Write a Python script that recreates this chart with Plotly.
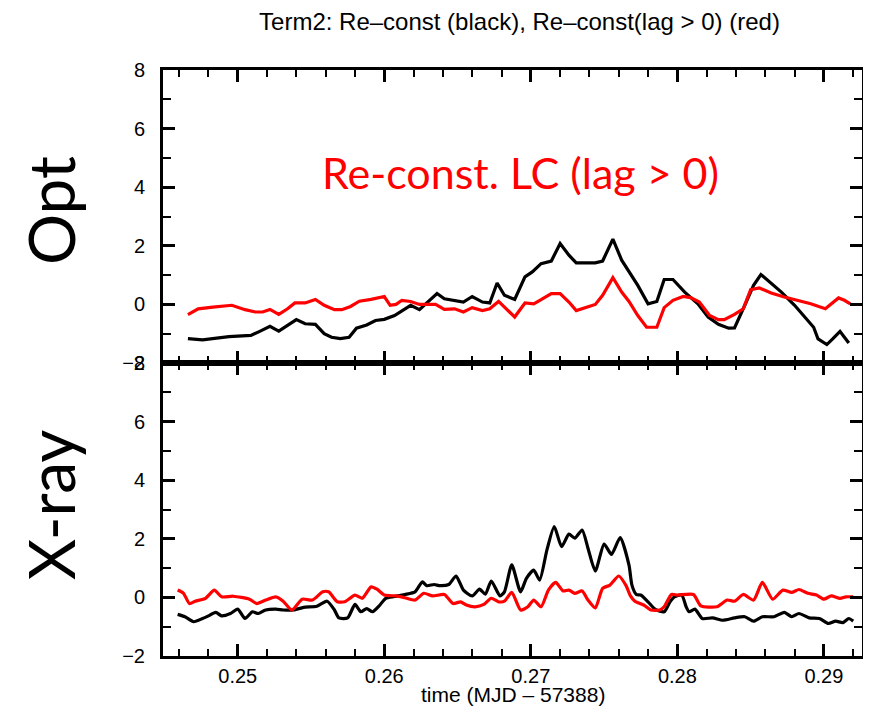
import plotly.graph_objects as go
from plotly.subplots import make_subplots

# Opt panel (top)
opt_time_black = [0.2466, 0.2476, 0.2494, 0.2509, 0.2515, 0.2522, 0.2528, 0.2534, 0.2540, 0.2546,
                  0.2553, 0.2559, 0.2564, 0.2570, 0.2576, 0.2581, 0.2588, 0.2594, 0.2600, 0.2607,
                  0.2612, 0.2618, 0.2624, 0.2630, 0.2636, 0.2641, 0.2648, 0.2654, 0.2660, 0.2667,
                  0.2672, 0.2677, 0.2682, 0.2689, 0.2696, 0.2701, 0.2707, 0.2714, 0.2720, 0.2726,
                  0.2731, 0.2744, 0.2749, 0.2756, 0.2762, 0.2767, 0.2773, 0.2780, 0.2786, 0.2791,
                  0.2797, 0.2805, 0.2814, 0.2821, 0.2828, 0.2835, 0.2839, 0.2846, 0.2852, 0.2857,
                  0.2864, 0.2871, 0.2880, 0.2887, 0.2893, 0.2896, 0.2902, 0.2906, 0.2911, 0.2914,
                  0.2917]
opt_black = [-1.17, -1.21, -1.10, -1.06, -0.92, -0.75, -0.91, -0.72, -0.52, -0.66,
             -0.68, -1.00, -1.12, -1.17, -1.12, -0.81, -0.70, -0.55, -0.51, -0.38,
             -0.21, -0.03, -0.18, 0.08, 0.37, 0.19, 0.14, 0.08, 0.27, 0.08,
             0.05, 0.73, 0.31, 0.17, 0.94, 1.11, 1.39, 1.48, 2.08, 1.68,
             1.42, 1.42, 1.48, 2.23, 1.51, 1.10, 0.65, 0.02, 0.10, 0.85,
             0.85, 0.42, 0.02, -0.43, -0.68, -0.81, -0.80, -0.03, 0.65, 1.02,
             0.71, 0.42, -0.03, -0.43, -0.78, -1.18, -1.37, -1.18, -0.92, -1.12,
             -1.32]

opt_time_red = [0.2466, 0.2473, 0.2483, 0.2496, 0.2505, 0.2512, 0.2517, 0.2522, 0.2528, 0.2534,
                0.2539, 0.2546, 0.2553, 0.2559, 0.2566, 0.2571, 0.2577, 0.2583, 0.2591, 0.2600,
                0.2604, 0.2608, 0.2612, 0.2618, 0.2624, 0.2635, 0.2641, 0.2648, 0.2654, 0.2660,
                0.2667, 0.2672, 0.2678, 0.2684, 0.2689, 0.2696, 0.2702, 0.2707, 0.2714, 0.2720,
                0.2726, 0.2731, 0.2737, 0.2744, 0.2749, 0.2756, 0.2762, 0.2767, 0.2773, 0.2779,
                0.2786, 0.2791, 0.2797, 0.2804, 0.2809, 0.2815, 0.2822, 0.2828, 0.2832, 0.2839,
                0.2845, 0.2850, 0.2856, 0.2864, 0.2873, 0.2882, 0.2891, 0.2901, 0.2910, 0.2914,
                0.2918]
opt_red = [-0.35, -0.15, -0.09, -0.03, -0.18, -0.26, -0.26, -0.17, -0.34, -0.15,
           0.05, 0.05, 0.17, -0.03, -0.18, -0.18, -0.07, 0.11, 0.17, 0.27,
           -0.03, 0.00, 0.14, 0.10, 0.00, 0.00, -0.17, -0.15, -0.26, -0.11,
           -0.21, -0.15, 0.10, -0.18, -0.43, 0.05, 0.02, 0.16, 0.37, 0.37,
           0.08, -0.21, -0.11, 0.00, 0.31, 0.91, 0.42, 0.10, -0.38, -0.78,
           -0.78, -0.11, 0.14, 0.27, 0.23, 0.08, -0.38, -0.52, -0.52, -0.34,
           -0.15, 0.50, 0.56, 0.39, 0.25, 0.14, 0.02, -0.15, 0.22, 0.14,
           0.02]

# X-ray panel (bottom)
xray_time_black = [0.2459, 0.2464, 0.2470, 0.2476, 0.2480, 0.2485, 0.2489, 0.2495, 0.2500, 0.2505,
                   0.2510, 0.2514, 0.2519, 0.2526, 0.2531, 0.2538, 0.2545, 0.2554, 0.2561, 0.2566,
                   0.2569, 0.2575, 0.2580, 0.2584, 0.2588, 0.2592, 0.2597, 0.2601, 0.2607, 0.2614,
                   0.2621, 0.2626, 0.2629, 0.2634, 0.2638, 0.2644, 0.2649, 0.2654, 0.2660, 0.2665,
                   0.2669, 0.2673, 0.2679, 0.2682, 0.2687, 0.2693, 0.2697, 0.2702, 0.2706, 0.2711,
                   0.2716, 0.2721, 0.2726, 0.2730, 0.2735, 0.2739, 0.2744, 0.2750, 0.2755, 0.2761,
                   0.2767, 0.2769, 0.2772, 0.2775, 0.2780, 0.2785, 0.2791, 0.2795, 0.2798, 0.2803,
                   0.2806, 0.2808, 0.2812, 0.2817, 0.2824, 0.2831, 0.2839, 0.2846, 0.2852, 0.2858,
                   0.2866, 0.2873, 0.2878, 0.2883, 0.2890, 0.2897, 0.2903, 0.2908, 0.2913, 0.2917,
                   0.2920]
xray_black = [-0.58, -0.66, -0.83, -0.72, -0.63, -0.51, -0.63, -0.55, -0.40, -0.72,
              -0.49, -0.55, -0.43, -0.40, -0.43, -0.43, -0.34, -0.30, -0.13, -0.43,
              -0.70, -0.70, -0.24, -0.49, -0.38, -0.49, -0.26, -0.03, 0.03, 0.10,
              0.19, 0.53, 0.40, 0.44, 0.40, 0.44, 0.73, 0.25, 0.05, 0.28,
              0.11, 0.56, 0.05, 0.19, 1.11, 0.19, 0.65, 0.93, 0.59, 1.62,
              2.42, 1.73, 2.16, 2.02, 2.30, 1.68, 0.90, 1.82, 1.47, 2.04,
              1.10, 0.42, 0.10, 0.08, -0.15, -0.41, -0.49, -0.15, 0.02, 0.08,
              -0.32, -0.49, -0.40, -0.72, -0.70, -0.78, -0.70, -0.66, -0.81, -0.66,
              -0.66, -0.51, -0.66, -0.55, -0.70, -0.72, -0.89, -0.81, -0.86, -0.72,
              -0.81]

xray_time_red = [0.2459, 0.2463, 0.2467, 0.2471, 0.2478, 0.2484, 0.2489, 0.2497, 0.2508, 0.2513,
                 0.2519, 0.2526, 0.2531, 0.2537, 0.2544, 0.2551, 0.2558, 0.2562, 0.2568, 0.2573,
                 0.2580, 0.2585, 0.2591, 0.2595, 0.2600, 0.2608, 0.2614, 0.2621, 0.2627, 0.2633,
                 0.2641, 0.2647, 0.2652, 0.2656, 0.2662, 0.2668, 0.2673, 0.2678, 0.2682, 0.2687,
                 0.2693, 0.2698, 0.2702, 0.2707, 0.2712, 0.2717, 0.2722, 0.2726, 0.2730, 0.2735,
                 0.2739, 0.2744, 0.2749, 0.2754, 0.2760, 0.2765, 0.2768, 0.2771, 0.2777, 0.2782,
                 0.2788, 0.2791, 0.2796, 0.2800, 0.2811, 0.2816, 0.2827, 0.2834, 0.2839, 0.2845,
                 0.2852, 0.2858, 0.2865, 0.2872, 0.2878, 0.2883, 0.2889, 0.2895, 0.2900, 0.2905,
                 0.2911, 0.2915, 0.2920]
xray_red = [0.25, 0.14, -0.21, -0.13, -0.03, 0.25, 0.02, 0.04, -0.06, -0.21,
            -0.09, 0.02, -0.13, -0.43, -0.06, -0.09, 0.19, 0.19, -0.15, -0.15,
            0.08, -0.03, 0.36, 0.28, 0.08, 0.05, -0.01, -0.09, 0.14, 0.05,
            0.10, -0.21, -0.15, -0.26, -0.32, -0.24, -0.03, -0.15, -0.13, 0.17,
            -0.43, -0.32, -0.09, -0.32, 0.25, 0.51, 0.22, 0.25, 0.14, 0.22,
            -0.09, -0.36, 0.31, 0.42, 0.73, 0.40, 0.05, -0.13, -0.26, -0.43,
            -0.43, -0.32, 0.10, 0.08, 0.10, -0.29, -0.32, -0.09, -0.13, 0.10,
            -0.09, 0.51, -0.06, 0.25, 0.17, 0.27, 0.14, 0.08, -0.06, 0.05,
            -0.03, 0.02, 0.02]

fig = make_subplots(rows=2, cols=1, shared_xaxes=True, vertical_spacing=0)

fig.add_trace(go.Scatter(x=opt_time_black, y=opt_black, mode='lines',
                         line=dict(color='black', width=3.2)), row=1, col=1)
fig.add_trace(go.Scatter(x=opt_time_red, y=opt_red, mode='lines',
                         line=dict(color='#ff0000', width=3.2)), row=1, col=1)
fig.add_trace(go.Scatter(x=xray_time_black, y=xray_black, mode='lines',
                         line=dict(color='black', width=3.2, shape='spline', smoothing=0.6)), row=2, col=1)
fig.add_trace(go.Scatter(x=xray_time_red, y=xray_red, mode='lines',
                         line=dict(color='#ff0000', width=3.2, shape='spline', smoothing=0.6)), row=2, col=1)

tick_font = dict(family='Liberation Sans, Arial, sans-serif', size=20, color='black')
axis_style = dict(showline=True, linewidth=3, linecolor='black', mirror='allticks',
                  ticks='inside', ticklen=12, tickwidth=3, tickcolor='black',
                  showgrid=False, zeroline=False, tickfont=tick_font, automargin=False)

for r in (1, 2):
    fig.update_xaxes(range=[0.2449, 0.2926], tick0=0.25, dtick=0.01,
                     minor=dict(ticks='inside', ticklen=7, tickwidth=2, tickcolor='black', dtick=0.002),
                     row=r, col=1, **axis_style)
    fig.update_yaxes(range=[-2, 8], tick0=0, dtick=2,
                     minor=dict(ticks='inside', ticklen=8, tickwidth=2, tickcolor='black', dtick=1),
                     ticklabelstandoff=11, row=r, col=1, **axis_style)

fig.update_xaxes(showticklabels=False, row=1, col=1)
fig.update_xaxes(tickformat='.2f', ticklabelstandoff=0, row=2, col=1)

# axis title placed by hand under the tick labels
fig.add_annotation(x=0.5, y=-0.065, xref='paper', yref='paper', text='time (MJD – 57388)',
                   showarrow=False, xanchor='center', yanchor='middle',
                   font=dict(family='Liberation Sans, Arial, sans-serif', size=21, color='black'))

fig.add_annotation(x=0.2693, y=4.5, xref='x', yref='y', text='Re-const. LC (lag > 0)',
                   showarrow=False, xanchor='center', yanchor='middle',
                   font=dict(family='Lato, sans-serif', size=43, color='#ff0000'))
fig.add_annotation(x=-0.161, y=0.76, xref='paper', yref='paper', text='Opt', textangle=-90,
                   showarrow=False, xanchor='center', yanchor='middle',
                   font=dict(family='Lato, sans-serif', size=64, color='black'))
fig.add_annotation(x=-0.161, y=0.258, xref='paper', yref='paper', text='X-ray', textangle=-90,
                   showarrow=False, xanchor='center', yanchor='middle',
                   font=dict(family='Lato, sans-serif', size=64, color='black'))

fig.update_layout(
    width=855, height=700,
    margin=dict(l=155, r=1, t=62, b=52),
    paper_bgcolor='white', plot_bgcolor='white',
    showlegend=False,
    title=dict(text='Term2: Re–const (black), Re–const(lag > 0) (red)',
               x=0.51, xref='paper', y=0.98, yanchor='middle',
               font=dict(family='Liberation Sans, Arial, sans-serif', size=24, color='black')),
)

fig.write_html("out.html")
